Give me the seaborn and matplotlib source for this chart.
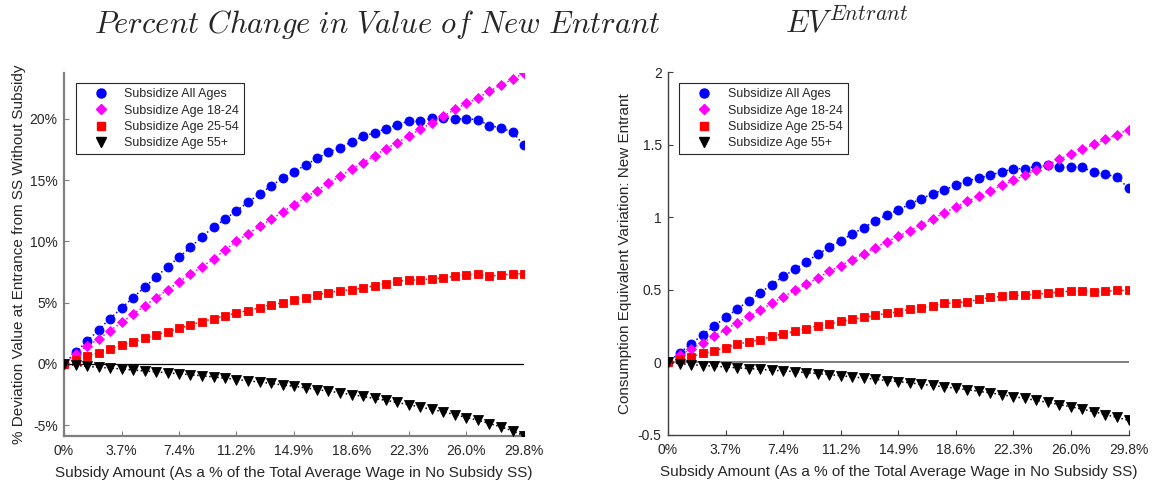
import numpy as np
import pandas as pd
import matplotlib
matplotlib.use("Agg")
import matplotlib.pyplot as plt
from matplotlib.lines import Line2D
import seaborn as sns

# Subsidy grid (% of total average wage in the no-subsidy steady state)
subsidy = [0.0, 0.744, 1.488, 2.232, 2.976, 3.72, 4.464, 5.208, 5.952, 6.696,
           7.44, 8.184, 8.928, 9.672, 10.416, 11.16, 11.904, 12.648, 13.392, 14.136,
           14.88, 15.624, 16.368, 17.112, 17.856, 18.6, 19.344, 20.088, 20.832, 21.576,
           22.32, 23.064, 23.808, 24.552, 25.296, 26.04, 26.784, 27.528, 28.272, 29.016,
           29.76]
xtick_labels = ["0%", "3.7%", "7.4%", "11.2%", "14.9%", "18.6%", "22.3%", "26.0%", "29.8%"]

series_names = ["Subsidize All Ages", "Subsidize Age 18-24",
                "Subsidize Age 25-54", "Subsidize Age 55+"]

# Left panel: % deviation of value at entrance
pct_all = [0, 0.95, 1.84, 2.76, 3.70, 4.54, 5.41, 6.24, 7.08, 7.92, 8.70, 9.50, 10.38,
           11.14, 11.81, 12.49, 13.19, 13.86, 14.51, 15.14, 15.68, 16.22, 16.76, 17.27,
           17.65, 18.11, 18.57, 18.84, 19.19, 19.51, 19.81, 19.78, 20.03, 20.08, 19.97,
           20.00, 19.92, 19.43, 19.27, 18.89, 17.84]
pct_18_24 = [0, 0.81, 1.43, 2.03, 2.70, 3.38, 4.05, 4.70, 5.41, 6.03, 6.70, 7.30, 7.92,
             8.55, 9.30, 10.00, 10.62, 11.22, 11.78, 12.38, 12.97, 13.59, 14.14, 14.73,
             15.32, 15.89, 16.41, 16.97, 17.57, 18.05, 18.62, 19.14, 19.68, 20.22, 20.76,
             21.27, 21.70, 22.24, 22.76, 23.22, 23.73]
pct_25_54 = [0, 0.35, 0.62, 0.92, 1.24, 1.51, 1.81, 2.08, 2.38, 2.62, 2.89, 3.19, 3.43,
             3.70, 3.92, 4.16, 4.35, 4.57, 4.84, 4.97, 5.22, 5.41, 5.65, 5.81, 5.97, 6.05,
             6.19, 6.38, 6.54, 6.73, 6.84, 6.84, 6.95, 7.00, 7.16, 7.24, 7.32, 7.16, 7.24,
             7.35, 7.35]
pct_55 = [0, -0.12, -0.20, -0.28, -0.34, -0.42, -0.50, -0.58, -0.65, -0.73, -0.81, -0.89,
          -0.97, -1.07, -1.16, -1.28, -1.37, -1.49, -1.59, -1.72, -1.83, -1.96, -2.10,
          -2.22, -2.37, -2.50, -2.66, -2.82, -2.98, -3.15, -3.34, -3.52, -3.72, -3.92,
          -4.14, -4.38, -4.60, -4.87, -5.14, -5.47, -5.86]
left_yticks = [-5, 0, 5, 10, 15, 20]
left_ytick_labels = ["-5%", "0%", "5%", "10%", "15%", "20%"]

# Right panel: consumption equivalent variation of a new entrant
ev_all = [0, 0.064, 0.129, 0.189, 0.251, 0.310, 0.368, 0.423, 0.480, 0.536, 0.593, 0.641,
          0.694, 0.745, 0.793, 0.839, 0.885, 0.929, 0.975, 1.016, 1.051, 1.092, 1.129,
          1.163, 1.191, 1.221, 1.253, 1.269, 1.292, 1.313, 1.336, 1.336, 1.352, 1.359,
          1.345, 1.349, 1.345, 1.310, 1.299, 1.276, 1.202]
ev_18_24 = [0, 0.048, 0.094, 0.133, 0.184, 0.225, 0.274, 0.317, 0.359, 0.409, 0.451,
            0.497, 0.538, 0.582, 0.628, 0.667, 0.708, 0.749, 0.791, 0.832, 0.869, 0.908,
            0.949, 0.989, 1.032, 1.071, 1.110, 1.147, 1.182, 1.221, 1.255, 1.292, 1.329,
            1.363, 1.402, 1.434, 1.469, 1.503, 1.538, 1.570, 1.605]
ev_25_54 = [0, 0.025, 0.041, 0.062, 0.080, 0.103, 0.124, 0.143, 0.156, 0.179, 0.198,
            0.214, 0.234, 0.253, 0.264, 0.283, 0.297, 0.310, 0.324, 0.338, 0.349, 0.366,
            0.377, 0.391, 0.407, 0.411, 0.418, 0.434, 0.448, 0.455, 0.462, 0.462, 0.471,
            0.476, 0.487, 0.490, 0.494, 0.487, 0.490, 0.497, 0.497]
ev_55 = [0, -0.008, -0.015, -0.021, -0.026, -0.031, -0.037, -0.042, -0.047, -0.053,
         -0.058, -0.063, -0.070, -0.077, -0.084, -0.091, -0.100, -0.107, -0.116, -0.125,
         -0.132, -0.140, -0.151, -0.158, -0.169, -0.177, -0.188, -0.199, -0.210, -0.222,
         -0.236, -0.247, -0.262, -0.275, -0.291, -0.305, -0.323, -0.339, -0.360, -0.378,
         -0.399]
right_yticks = [-0.5, 0, 0.5, 1, 1.5, 2]
right_ytick_labels = ["-0.5", "0", "0.5", "1", "1.5", "2"]

colors = ["#0000ff", "#ff00ff", "#ff0000", "#000000"]
markers = ["o", "D", "s", "v"]
msizes = [6.5, 5.3, 5.9, 6.7]

sns.set_style("white")
plt.rcParams["font.family"] = ["Liberation Sans", "DejaVu Sans"]
plt.rcParams["mathtext.fontset"] = "cm"

fig = plt.figure(figsize=(11.56, 4.84), dpi=100)
W, H = 1156, 484
ax_l = fig.add_axes([64 / W, (H - 435.7) / H, 460 / W, (435.7 - 73) / H])
ax_r = fig.add_axes([668 / W, (H - 435) / H, 460.5 / W, (435 - 72.3) / H])

xt = subsidy[::5]
text_color = "#262626"


def draw_panel(ax, ys, yticks, ylabels, ylim, zero_color, zero_lw, spine_color, spine_lw,
               ylabel, ylabel_x, legend_anchor):
    df = pd.DataFrame({"x": subsidy})
    ax.axhline(0, color=zero_color, lw=zero_lw, zorder=1)
    for name, y, c, m, ms in zip(series_names, ys, colors, markers, msizes):
        df[name] = y
        sns.lineplot(data=df, x="x", y=name, ax=ax, color=c, marker=m, markersize=ms,
                     markeredgecolor=c, markeredgewidth=0.6, linestyle=":", linewidth=1.1,
                     zorder=3)
    ax.set_xlim(subsidy[0], subsidy[-1])
    ax.set_ylim(*ylim)
    ax.set_xticks(xt)
    ax.set_xticklabels(xtick_labels)
    ax.set_yticks(yticks)
    ax.set_yticklabels(ylabels)
    for s in ["top", "right"]:
        ax.spines[s].set_visible(False)
    for s in ["left", "bottom"]:
        ax.spines[s].set_color(spine_color)
        ax.spines[s].set_linewidth(spine_lw)
    ax.tick_params(axis="both", direction="in", length=3.5, width=0.8,
                   color=spine_color, labelsize=10, labelcolor=text_color,
                   left=True, bottom=True)
    ax.tick_params(axis="x", pad=6)
    ax.tick_params(axis="y", pad=4.5)
    ax.set_xlabel("Subsidy Amount (As a % of the Total Average Wage in No Subsidy SS)",
                  fontsize=11, color=text_color)
    ax.xaxis.set_label_coords(0.5, -0.083)
    ax.set_ylabel(ylabel, fontsize=11, color=text_color)
    ax.yaxis.set_label_coords(ylabel_x, 0.5)
    handles = [Line2D([], [], color=c, marker=m, markersize=ms, linestyle="none",
                      markeredgecolor=c)
               for c, m, ms in zip(colors, markers, msizes)]
    leg = ax.legend(handles, series_names, loc="upper left", bbox_to_anchor=legend_anchor,
                    borderaxespad=0, fontsize=9, frameon=True, fancybox=False,
                    edgecolor=text_color, framealpha=1, handlelength=3.2,
                    handletextpad=0.3, borderpad=0.4, labelspacing=0.35)
    leg.get_frame().set_linewidth(0.8)
    for t in leg.get_texts():
        t.set_color(text_color)


draw_panel(ax_l, [pct_all, pct_18_24, pct_25_54, pct_55], left_yticks, left_ytick_labels,
           (min(pct_55), max(pct_18_24)), "black", 0.9, "#7f7f7f", 1.6,
           "% Deviation Value at Entrance from SS Without Subsidy", -0.083, (0.0254, 0.9716))
draw_panel(ax_r, [ev_all, ev_18_24, ev_25_54, ev_55], right_yticks, right_ytick_labels,
           (-0.5, 2), "#808080", 1.4, "#404040", 1.0,
           "Consumption Equivalent Variation: New Entrant", -0.078, (0.0245, 0.9697))

fig.text(377 / W, 1 - 33 / H, r"$Percent\ Change\ in\ Value\ of\ New\ Entrant$",
         ha="center", va="baseline", fontsize=22)
fig.text(785 / W, 1 - 33 / H, r"$EV^{Entrant}$", ha="left", va="baseline", fontsize=22)

fig.savefig("out.png", dpi=100)
